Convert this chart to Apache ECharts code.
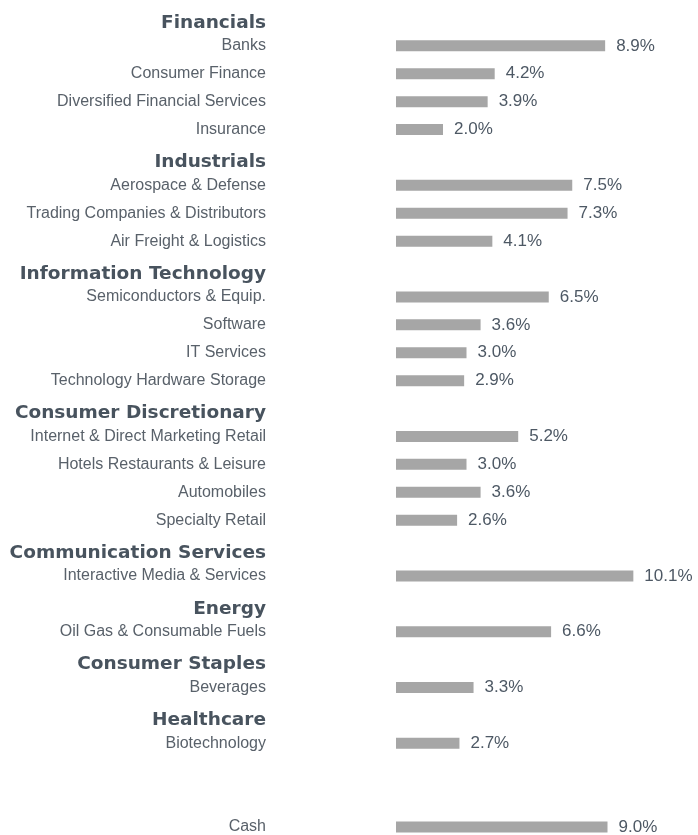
<!DOCTYPE html>
<html>
<head>
<meta charset="utf-8">
<script src="https://cdn.jsdelivr.net/npm/echarts@6/dist/echarts.min.js"></script>
<style>
  html, body { margin: 0; padding: 0; background: #fff; }
  #chart { width: 698px; height: 835px; }
</style>
</head>
<body>
<div id="chart"></div>
<script>
// sector headers (rows without a bar)
const sectors = [
  'Financials', 'Industrials', 'Information Technology', 'Consumer Discretionary',
  'Communication Services', 'Energy', 'Consumer Staples', 'Healthcare'
]

// one row per slot, top to bottom; blank strings = spacer rows
const rows = [
  'Financials', 'Banks', 'Consumer Finance', 'Diversified Financial Services', 'Insurance',
  'Industrials', 'Aerospace & Defense', 'Trading Companies & Distributors', 'Air Freight & Logistics',
  'Information Technology', 'Semiconductors & Equip.', 'Software', 'IT Services', 'Technology Hardware Storage',
  'Consumer Discretionary', 'Internet & Direct Marketing Retail', 'Hotels Restaurants & Leisure', 'Automobiles', 'Specialty Retail',
  'Communication Services', 'Interactive Media & Services',
  'Energy', 'Oil Gas & Consumable Fuels',
  'Consumer Staples', 'Beverages',
  'Healthcare', 'Biotechnology',
  ' ', '  ',
  'Cash'
]

// weights (%) matching rows; null = header / spacer
const weights = [
  null, 8.9, 4.2, 3.9, 2.0,
  null, 7.5, 7.3, 4.1,
  null, 6.5, 3.6, 3.0, 2.9,
  null, 5.2, 3.0, 3.6, 2.6,
  null, 10.1,
  null, 6.6,
  null, 3.3,
  null, 2.7,
  null, null,
  9.0
]

const chart = echarts.init(document.getElementById('chart'))

chart.setOption({
  animation: false,
  grid: { left: 396, right: 20, top: 4, height: 837, containLabel: false, outerBoundsMode: 'none' },
  xAxis: {
    type: 'value',
    min: 0,
    max: 12,
    show: false
  },
  yAxis: {
    type: 'category',
    data: rows,
    inverse: true,
    axisLine: { show: false },
    axisTick: { show: false },
    axisLabel: {
      margin: 130,
      interval: 0,
      formatter: (v) => sectors.includes(v) ? `{h|${v}}` : `{i|${v}}`,
      rich: {
        h: {
          fontFamily: 'DejaVu Sans',
          fontWeight: 'bold',
          fontSize: 18.5,
          color: '#48535e',
          padding: [10, 0, 0, 0]
        },
        i: {
          fontFamily: 'Liberation Sans',
          fontSize: 16,
          color: '#59616a'
        }
      }
    }
  },
  series: [
    {
      type: 'bar',
      data: weights,
      barWidth: 11,
      itemStyle: { color: '#a6a6a6' },
      label: {
        show: true,
        position: 'right',
        distance: 11,
        fontFamily: 'Liberation Sans',
        fontSize: 17,
        color: '#4d5864',
        formatter: (p) => p.value.toFixed(1) + '%'
      }
    }
  ]
})
</script>
</body>
</html>
